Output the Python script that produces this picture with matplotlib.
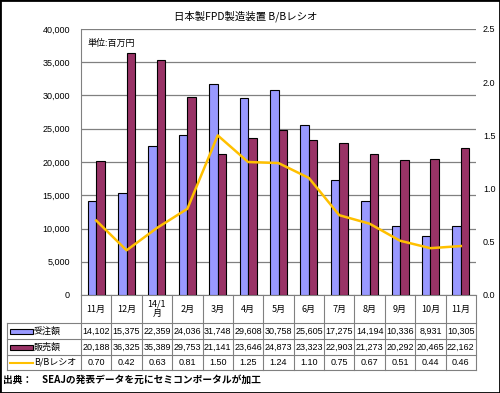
import matplotlib
matplotlib.use('Agg')
import matplotlib.pyplot as plt
import matplotlib.transforms as mtransforms
from matplotlib.patches import Rectangle
from matplotlib.lines import Line2D
import numpy as np

plt.rcParams['font.family'] = ['Noto Sans CJK JP', 'DejaVu Sans']

months = ['11月', '12月', '14/1\n月', '2月', '3月', '4月', '5月', '6月', '7月', '8月', '9月', '10月', '11月']
orders = [14102, 15375, 22359, 24036, 31748, 29608, 30758, 25605, 17275, 14194, 10336, 8931, 10305]
sales = [20188, 36325, 35389, 29753, 21141, 23646, 24873, 23323, 22903, 21273, 20292, 20465, 22162]
ratio = [0.70, 0.42, 0.63, 0.81, 1.50, 1.25, 1.24, 1.10, 0.75, 0.67, 0.51, 0.44, 0.46]
series_names = ['受注額', '販売額', 'B/Bレシオ']

BLUE = '#9999FF'
MAROON = '#993366'
GOLD = '#FFC000'
GRID = '#808080'

W, H = 500, 393
fig = plt.figure(figsize=(W / 100, H / 100), dpi=100)


def fx(p):
    return p / W


def fy(p):
    return 1 - p / H


ax = fig.add_axes([fx(81), fy(295), fx(476 - 81), fy(29) - fy(295)])
x = np.arange(len(months))
bw = 0.28
ax.bar(x - bw / 2, orders, bw, color=BLUE, edgecolor='black', linewidth=0.8, zorder=3)
ax.bar(x + bw / 2, sales, bw, color=MAROON, edgecolor='black', linewidth=0.8, zorder=3)
ax.set_xlim(-0.5, len(months) - 0.5)
ax.set_ylim(0, 40000)
ax.set_yticks(range(0, 40001, 5000))
ax.set_yticklabels([f'{v:,}' for v in range(0, 40001, 5000)], fontsize=6.5, family='Liberation Sans')
ax.yaxis.grid(True, color=GRID, linewidth=0.9, zorder=0)
ax.set_xticks([])
ax.tick_params(axis='y', length=0, pad=8)
for s in ['top', 'right']:
    ax.spines[s].set_visible(False)
ax.spines['left'].set_color(GRID)
ax.spines['bottom'].set_color(GRID)

ax2 = ax.twinx()
ax2.plot(x, ratio, color=GOLD, linewidth=1.8, zorder=4)
ax2.set_ylim(0, 2.5)
ax2.set_yticks(np.arange(0, 2.51, 0.5))
ax2.set_yticklabels([f'{v:.1f}' for v in np.arange(0, 2.51, 0.5)], fontsize=6.5, family='Liberation Sans')
ax2.tick_params(axis='y', length=0, pad=5)
for s in ['top', 'right', 'left', 'bottom']:
    ax2.spines[s].set_visible(False)

fig.text(fx(246), fy(16), '日本製FPD製造装置 B/Bレシオ', ha='center', va='center', fontsize=7.5)
fig.text(fx(88), fy(43), '単位:百万円', ha='left', va='center', fontsize=6.5)

# data table under the chart
bt = mtransforms.blended_transform_factory(ax.transData, fig.transFigure)
rows_y = [295, 323, 339, 355, 370]
x0, x1 = -0.5, len(months) - 0.5
lc = dict(color=GRID, linewidth=0.8)
# horizontal lines
for yy in rows_y[1:]:
    fig.add_artist(Line2D([fx(7), fx(476)], [fy(yy), fy(yy)], transform=fig.transFigure, **lc))
# vertical lines
for b in np.arange(x0, x1 + 0.01, 1.0):
    fig.add_artist(Line2D([b, b], [fy(295), fy(370)], transform=bt, **lc))
fig.add_artist(Line2D([fx(7), fx(7)], [fy(323), fy(370)], transform=fig.transFigure, **lc))

for i, m in enumerate(months):
    fig.text(i, fy(309), m, transform=bt, ha='center', va='center', fontsize=6.5, linespacing=1.1)
row_vals = [[f'{v:,}' for v in orders], [f'{v:,}' for v in sales], [f'{v:.2f}' for v in ratio]]
for r, vals in enumerate(row_vals):
    yc = (rows_y[r + 1] + rows_y[r + 2]) / 2
    for i, v in enumerate(vals):
        fig.text(i, fy(yc), v, transform=bt, ha='center', va='center', fontsize=6.5, family='Liberation Sans')
    fig.text(fx(34), fy(yc), series_names[r], ha='left', va='center', fontsize=6.5)

# legend keys in the table
for r, col in enumerate([BLUE, MAROON]):
    yc = (rows_y[r + 1] + rows_y[r + 2]) / 2
    fig.add_artist(Rectangle((fx(10), fy(yc + 2.5)), fx(23), fy(0) - fy(5), transform=fig.transFigure,
                             facecolor=col, edgecolor='black', linewidth=0.8))
yc = (rows_y[3] + rows_y[4]) / 2
fig.add_artist(Line2D([fx(10), fx(33)], [fy(yc), fy(yc)], transform=fig.transFigure, color=GOLD, linewidth=1.5))

fig.text(fx(3), fy(380), '出典：　SEAJの発表データを元にセミコンポータルが加工', ha='left', va='center',
         fontsize=7, fontweight='bold')

fig.add_artist(Rectangle((0, 0), 1, 1, transform=fig.transFigure, fill=False, edgecolor='black', linewidth=2))

fig.savefig('out.png', dpi=100)
